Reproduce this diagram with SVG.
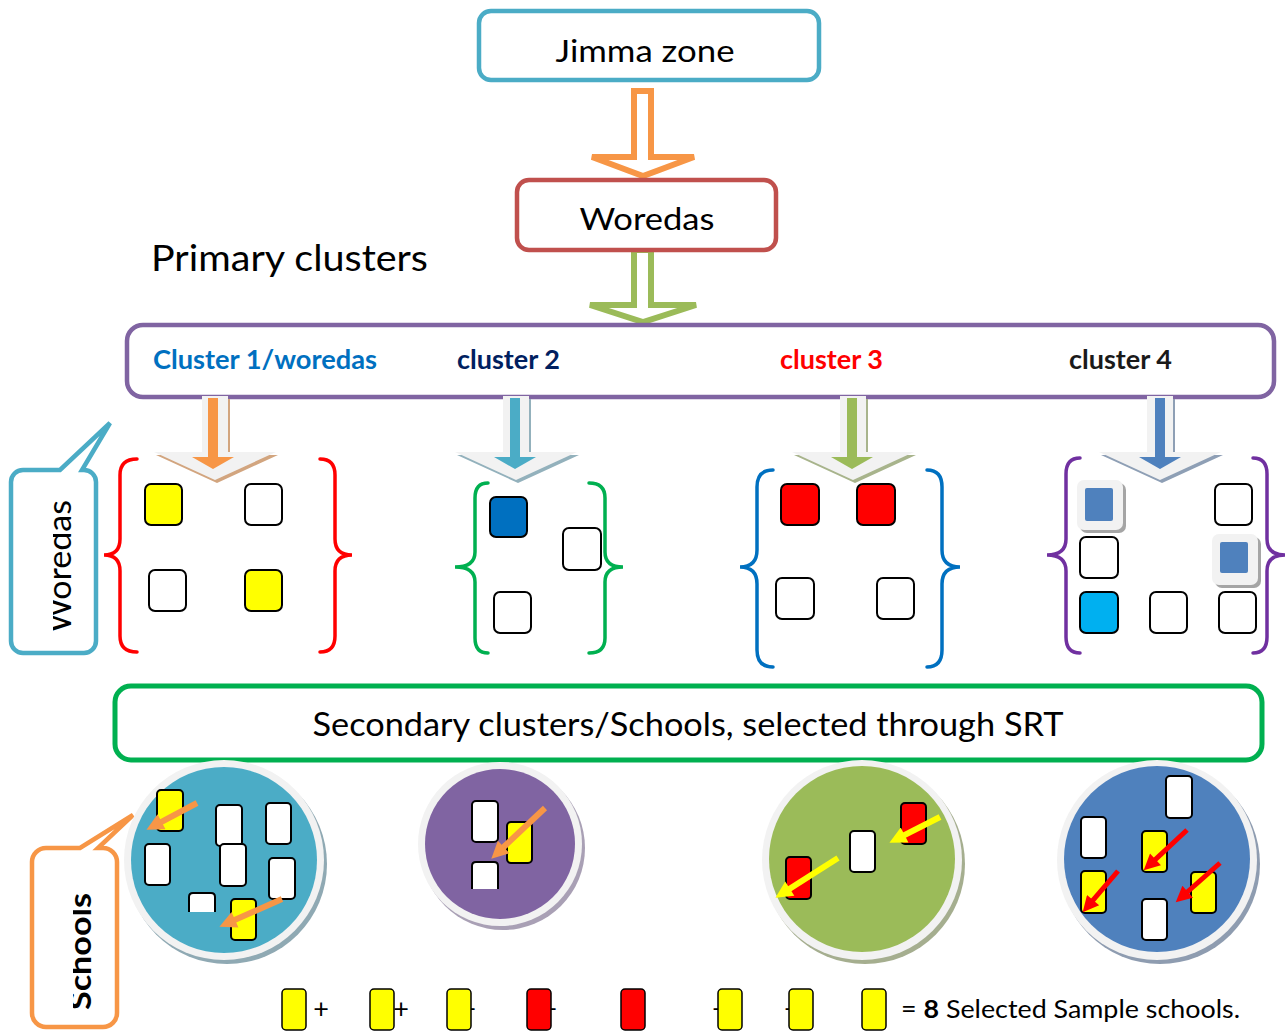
<svg xmlns="http://www.w3.org/2000/svg" width="1288" height="1034" viewBox="0 0 1288 1034">
<style>
text{font-family:Lato,"Liberation Sans",sans-serif;fill:#000}
.box{fill:#fff;stroke-width:4.5}
.sq{stroke:#000;stroke-width:2}
.y{fill:#FFFF00}.w{fill:#fff}.r{fill:#FF0000}
.brace{fill:none;stroke-width:3.5;stroke-linecap:round}
.lg{stroke:#000;stroke-width:1.5}
.plus{font-size:27px}
</style>
<defs>
<path id="outerArrow" d="M-13,396 V452 H-61 L0,480 L61,452 H13 V396 Z"/>
<path id="innerArrow" d="M-5,398 V457 H-21 L0,469 L21,457 H5 V398 Z"/>
<marker id="hOr" viewBox="0 0 10 10" refX="5" refY="5" markerWidth="18" markerHeight="17" markerUnits="userSpaceOnUse" orient="auto"><path d="M0,0 L10,5 L0,10 Z" fill="#F79646"/></marker>
<marker id="hYe" viewBox="0 0 10 10" refX="5" refY="5" markerWidth="18" markerHeight="17" markerUnits="userSpaceOnUse" orient="auto"><path d="M0,0 L10,5 L0,10 Z" fill="#FFFF00"/></marker>
<marker id="hRe" viewBox="0 0 10 10" refX="5" refY="5" markerWidth="18" markerHeight="16" markerUnits="userSpaceOnUse" orient="auto"><path d="M0,0 L10,5 L0,10 Z" fill="#FF0000"/></marker>
<clipPath id="clipW"><rect x="53" y="470" width="43" height="183"/></clipPath>
<clipPath id="clipS"><rect x="73" y="848" width="44" height="179"/></clipPath>
</defs>

<!-- connectors -->
<g id="connectors">
  <path d="M634,250 V305 H590 L643,322 L696,305 H651 V250 Z" fill="#fff" stroke="#9BBB59" stroke-width="6" stroke-linejoin="miter"/>
  <path d="M634,91 V157 H592 L643,176 L694,157 H651 V91 Z" fill="#fff" stroke="#F79646" stroke-width="6"/>
</g>

<g id="jimma">
  <rect class="box" x="479" y="11" width="340" height="69" rx="12" stroke="#4BACC6"/>
  <text x="645" y="62" font-size="30" text-anchor="middle" textLength="179" lengthAdjust="spacingAndGlyphs">Jimma zone</text>
</g>
<g id="woredas">
  <rect class="box" x="517" y="180" width="259" height="70" rx="12" stroke="#C0504D"/>
  <text x="647" y="230" font-size="31" text-anchor="middle" textLength="135" lengthAdjust="spacingAndGlyphs">Woredas</text>
</g>
<g id="primary-label">
  <text x="151" y="271" font-size="36" textLength="277" lengthAdjust="spacingAndGlyphs">Primary clusters</text>
</g>

<g id="cluster-bar">
  <rect class="box" x="127" y="325" width="1147" height="72" rx="16" stroke="#8064A2" stroke-width="5"/>
  <text x="153" y="369" font-size="26" font-weight="bold" style="fill:#0070C0" textLength="224" lengthAdjust="spacingAndGlyphs">Cluster 1/woredas</text>
  <text x="457" y="369" font-size="26" font-weight="bold" style="fill:#002060" textLength="103" lengthAdjust="spacingAndGlyphs">cluster 2</text>
  <text x="780" y="369" font-size="26" font-weight="bold" style="fill:#FF0000" textLength="103" lengthAdjust="spacingAndGlyphs">cluster 3</text>
  <text x="1069" y="369" font-size="26" font-weight="bold" style="fill:#1a1a1a" textLength="103" lengthAdjust="spacingAndGlyphs">cluster 4</text>
</g>

<!-- cluster down arrows -->
<g id="arrow-c1">
  <use href="#outerArrow" transform="translate(217,3)" fill="#D2A57F"/>
  <use href="#outerArrow" transform="translate(215,0)" fill="#F2F2F2"/>
  <use href="#innerArrow" transform="translate(213,0)" fill="#F79646"/>
</g>
<g id="arrow-c2">
  <use href="#outerArrow" transform="translate(518,3)" fill="#93B1BC"/>
  <use href="#outerArrow" transform="translate(516,0)" fill="#F2F2F2"/>
  <use href="#innerArrow" transform="translate(515,0)" fill="#4BACC6"/>
</g>
<g id="arrow-c3">
  <use href="#outerArrow" transform="translate(855,3)" fill="#A8B48C"/>
  <use href="#outerArrow" transform="translate(853,0)" fill="#F2F2F2"/>
  <use href="#innerArrow" transform="translate(852,0)" fill="#9BBB59"/>
</g>
<g id="arrow-c4">
  <use href="#outerArrow" transform="translate(1162,3)" fill="#8E9FB5"/>
  <use href="#outerArrow" transform="translate(1160,0)" fill="#F2F2F2"/>
  <use href="#innerArrow" transform="translate(1160,0)" fill="#4F81BD"/>
</g>

<!-- Woredas callout -->
<g id="woredas-callout">
  <path d="M23,470 H60 L110,423 L82,470 H84 A12,12 0 0 1 96,482 V641 A12,12 0 0 1 84,653 H23 A12,12 0 0 1 11,641 V482 A12,12 0 0 1 23,470 Z" fill="#fff" stroke="#4BACC6" stroke-width="4.5" stroke-linejoin="miter"/>
  <g clip-path="url(#clipW)">
    <text transform="translate(71,633) rotate(-90)" font-size="33" textLength="133" lengthAdjust="spacingAndGlyphs">Woredas</text>
  </g>
</g>

<!-- cluster 1 -->
<g id="cluster1">
  <path class="brace" stroke="#FF0000" d="M137,459 Q120,459 120,475 L120,539 Q120,555 104,555 Q120,555 120,571 L120,636 Q120,652 137,652"/>
  <path class="brace" stroke="#FF0000" d="M320,459 Q335,459 335,475 L335,539 Q335,555 352,555 Q335,555 335,571 L335,636 Q335,652 320,652"/>
  <rect class="sq y" x="145" y="484" width="37" height="41" rx="6"/>
  <rect class="sq w" x="245" y="484" width="37" height="41" rx="6"/>
  <rect class="sq w" x="149" y="570" width="37" height="41" rx="6"/>
  <rect class="sq y" x="245" y="570" width="37" height="41" rx="6"/>
</g>
<!-- cluster 2 -->
<g id="cluster2">
  <path class="brace" stroke="#00B050" d="M488,483 Q475,483 475,498 L475,552 Q475,567 455,567 Q475,567 475,582 L475,638 Q475,653 488,653"/>
  <path class="brace" stroke="#00B050" d="M589,483 Q605,483 605,498 L605,552 Q605,567 623,567 Q605,567 605,582 L605,638 Q605,653 589,653"/>
  <rect class="sq" fill="#0070C0" x="490" y="497" width="37" height="40" rx="6"/>
  <rect class="sq w" x="563" y="528" width="38" height="42" rx="6"/>
  <rect class="sq w" x="494" y="592" width="37" height="41" rx="6"/>
</g>
<!-- cluster 3 -->
<g id="cluster3">
  <path class="brace" stroke="#0070C0" d="M773,470 Q757,470 757,487 L757,550 Q757,567 740,567 Q757,567 757,584 L757,650 Q757,667 773,667"/>
  <path class="brace" stroke="#0070C0" d="M927,470 Q942,470 942,487 L942,550 Q942,567 960,567 Q942,567 942,584 L942,650 Q942,667 927,667"/>
  <rect class="sq r" x="781" y="484" width="38" height="41" rx="6"/>
  <rect class="sq r" x="857" y="484" width="38" height="41" rx="6"/>
  <rect class="sq w" x="776" y="578" width="38" height="41" rx="6"/>
  <rect class="sq w" x="877" y="578" width="37" height="41" rx="6"/>
</g>
<!-- cluster 4 -->
<g id="cluster4">
  <path class="brace" stroke="#7030A0" d="M1080,458 Q1066,458 1066,474 L1066,539 Q1066,555 1047,555 Q1066,555 1066,571 L1066,637 Q1066,653 1080,653"/>
  <path class="brace" stroke="#7030A0" d="M1253,458 Q1267,458 1267,474 L1267,539 Q1267,555 1285,555 Q1267,555 1267,571 L1267,637 Q1267,653 1253,653"/>
  <rect x="1080" y="483" width="46" height="50" rx="7" fill="#A5A5A5"/>
  <rect x="1077" y="480" width="46" height="50" rx="7" fill="#F2F2F2"/>
  <rect x="1085" y="488" width="28" height="33" rx="2" fill="#4F81BD"/>
  <rect class="sq w" x="1215" y="484" width="37" height="41" rx="6"/>
  <rect class="sq w" x="1080" y="537" width="38" height="41" rx="6"/>
  <rect x="1215" y="537" width="46" height="51" rx="7" fill="#A5A5A5"/>
  <rect x="1212" y="534" width="46" height="51" rx="7" fill="#F2F2F2"/>
  <rect x="1220" y="542" width="28" height="31" rx="2" fill="#4F81BD"/>
  <rect class="sq" fill="#00B0F0" x="1080" y="592" width="38" height="41" rx="6"/>
  <rect class="sq w" x="1150" y="592" width="37" height="41" rx="6"/>
  <rect class="sq w" x="1219" y="592" width="37" height="41" rx="6"/>
</g>

<!-- small tabs -->
<g id="tabs">
  <rect x="213" y="754" width="30" height="8" fill="#F79646"/>
  <rect x="484" y="754" width="31" height="8" fill="#4BACC6"/>
  <rect x="837" y="754" width="31" height="8" fill="#8064A2"/>
  <rect x="1143" y="754" width="32" height="8" fill="#9BBB59"/>
</g>

<g id="secondary-bar">
  <rect x="115" y="686" width="1147" height="74" rx="16" fill="#fff" stroke="#00B050" stroke-width="5"/>
  <text x="688" y="736" font-size="32" text-anchor="middle" textLength="751" lengthAdjust="spacingAndGlyphs">Secondary clusters/Schools, selected through SRT</text>
</g>

<!-- Schools callout -->
<g id="schools-callout">
  <path d="M46,848 H80 L133,815 L98,848 H103 A14,14 0 0 1 117,862 V1013 A14,14 0 0 1 103,1027 H46 A14,14 0 0 1 32,1013 V862 A14,14 0 0 1 46,848 Z" fill="#fff" stroke="#F79646" stroke-width="4.5"/>
  <g clip-path="url(#clipS)">
    <text transform="translate(91,1010) rotate(-90)" font-size="31" font-weight="bold" textLength="117" lengthAdjust="spacingAndGlyphs">Schools</text>
  </g>
</g>

<!-- circle 1 -->
<g id="circle1">
  <circle cx="227" cy="864" r="100" fill="#8FA9B3"/>
  <circle cx="224" cy="860" r="100" fill="#F2F2F2"/>
  <circle cx="224" cy="860" r="93" fill="#4BACC6"/>
  <rect class="sq y" x="157" y="790" width="26" height="41" rx="4"/>
  <rect class="sq w" x="216" y="805" width="26" height="41" rx="4"/>
  <rect class="sq w" x="266" y="803" width="25" height="41" rx="4"/>
  <rect class="sq w" x="145" y="844" width="25" height="41" rx="4"/>
  <rect class="sq w" x="220" y="844" width="26" height="42" rx="4"/>
  <rect class="sq w" x="269" y="858" width="26" height="41" rx="4"/>
  <path class="sq w" d="M189,913 V897 Q189,893 193,893 H211 Q215,893 215,897 V913"/>
  <rect x="188" y="912" width="28" height="4" fill="#4BACC6"/>
  <rect class="sq y" x="231" y="899" width="25" height="41" rx="4"/>
  <line x1="197" y1="803" x2="154" y2="825.8" stroke="#F79646" stroke-width="6" marker-end="url(#hOr)"/>
  <line x1="282" y1="899" x2="227.2" y2="923.3" stroke="#F79646" stroke-width="6" marker-end="url(#hOr)"/>
</g>
<!-- circle 2 -->
<g id="circle2">
  <circle cx="503" cy="848" r="82" fill="#A9A0B5"/>
  <circle cx="500" cy="844" r="82" fill="#F2F2F2"/>
  <circle cx="500" cy="844" r="75" fill="#8064A2"/>
  <rect class="sq w" x="472" y="801" width="26" height="41" rx="4"/>
  <rect class="sq y" x="507" y="822" width="25" height="41" rx="4"/>
  <path class="sq w" d="M472,890 V866 Q472,862 476,862 H494 Q498,862 498,866 V890"/>
  <rect x="471" y="889" width="28" height="4" fill="#8064A2"/>
  <line x1="545" y1="808" x2="497.5" y2="852.8" stroke="#F79646" stroke-width="6" marker-end="url(#hOr)"/>
</g>
<!-- circle 3 -->
<g id="circle3">
  <circle cx="865" cy="864" r="100" fill="#A5AE8F"/>
  <circle cx="862" cy="860" r="100" fill="#F2F2F2"/>
  <circle cx="862" cy="859" r="93" fill="#9BBB59"/>
  <rect class="sq r" x="901" y="803" width="25" height="41" rx="4"/>
  <rect class="sq w" x="850" y="831" width="25" height="41" rx="4"/>
  <rect class="sq r" x="786" y="857" width="25" height="42" rx="4"/>
  <line x1="940" y1="817" x2="897" y2="838.9" stroke="#FFFF00" stroke-width="6" marker-end="url(#hYe)"/>
  <line x1="838" y1="858" x2="782.6" y2="893.2" stroke="#FFFF00" stroke-width="6" marker-end="url(#hYe)"/>
</g>
<!-- circle 4 -->
<g id="circle4">
  <circle cx="1160" cy="864" r="100" fill="#8E9CB0"/>
  <circle cx="1157" cy="860" r="100" fill="#F2F2F2"/>
  <circle cx="1157" cy="859" r="93" fill="#4F81BD"/>
  <rect class="sq w" x="1166" y="776" width="26" height="42" rx="4"/>
  <rect class="sq w" x="1081" y="817" width="25" height="41" rx="4"/>
  <rect class="sq y" x="1142" y="831" width="25" height="41" rx="4"/>
  <rect class="sq y" x="1081" y="871" width="25" height="42" rx="4"/>
  <rect class="sq y" x="1191" y="872" width="25" height="41" rx="4"/>
  <rect class="sq w" x="1142" y="899" width="25" height="41" rx="4"/>
  <line x1="1187" y1="830" x2="1149.6" y2="864.9" stroke="#FF0000" stroke-width="5" marker-end="url(#hRe)"/>
  <line x1="1118" y1="871" x2="1087.9" y2="906.2" stroke="#FF0000" stroke-width="5" marker-end="url(#hRe)"/>
  <line x1="1220" y1="863" x2="1181.7" y2="897" stroke="#FF0000" stroke-width="5" marker-end="url(#hRe)"/>
</g>

<!-- legend -->
<g id="legend">
  <text class="plus" x="321" y="1018" text-anchor="middle">+</text>
  <text class="plus" x="401" y="1018" text-anchor="middle">+</text>
  <text class="plus" x="468" y="1018" text-anchor="middle">+</text>
  <text class="plus" x="549" y="1018" text-anchor="middle">+</text>
  <text class="plus" x="720" y="1018" text-anchor="middle">+</text>
  <text class="plus" x="792" y="1018" text-anchor="middle">+</text>
  <rect class="lg y" x="282" y="989" width="24" height="41" rx="4"/>
  <rect class="lg y" x="370" y="989" width="24" height="41" rx="4"/>
  <rect class="lg y" x="447" y="989" width="24" height="41" rx="4"/>
  <rect class="lg r" x="527" y="989" width="24" height="41" rx="4"/>
  <rect class="lg r" x="621" y="989" width="24" height="41" rx="4"/>
  <rect class="lg y" x="718" y="989" width="24" height="41" rx="4"/>
  <rect class="lg y" x="789" y="989" width="24" height="41" rx="4"/>
  <rect class="lg y" x="862" y="989" width="24" height="41" rx="4"/>
  <text x="901" y="1018" font-size="25" textLength="339" lengthAdjust="spacingAndGlyphs">= <tspan font-weight="bold">8</tspan> Selected Sample schools.</text>
</g>
</svg>
